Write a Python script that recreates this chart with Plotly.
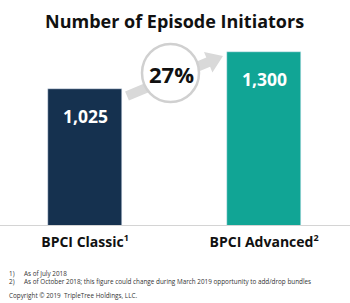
import plotly.graph_objects as go

categories = ["BPCI Classic", "BPCI Advanced"]
tick_labels = ["<b>BPCI Classic<sup><span style='font-size:9px'>1</span></sup></b>",
               "<b>BPCI Advanced<sup><span style='font-size:9px'>2</span></sup></b>"]
values = [1025, 1300]
value_labels = ["1,025", "1,300"]
bar_colors = ["#15314f", "#11a595"]
growth_label = "27%"
title_text = "Number of Episode Initiators"
footnotes = [("1)", "As of July 2018"),
             ("2)", "As of October 2018; this figure could change during March 2019 opportunity to add/drop bundles")]
copyright_text = "Copyright © 2019  TripleTree Holdings, LLC."

W, H = 350, 303
PLOT_H = 226
FONT = "Open Sans"


def px(x):
    return x / W


def py(y):
    return (PLOT_H - y) / PLOT_H


fig = go.Figure()
fig.add_trace(go.Bar(
    x=categories, y=values, marker_color=bar_colors, width=0.413,
    hoverinfo="skip", showlegend=False,
))

annotations = []
for c, v, t in zip(categories, values, value_labels):
    annotations.append(dict(x=c, y=v, xref="x", yref="y", text=f"<b>{t}</b>",
                            showarrow=False, yshift=-27, yanchor="middle",
                            font=dict(family=FONT, size=17.5, color="white")))

annotations.append(dict(x=px(174), y=py(21), xref="paper", yref="paper",
                        text=f"<b>{title_text}</b>", showarrow=False,
                        xanchor="center", yanchor="middle",
                        font=dict(family=FONT, size=18, color="#111111")))
annotations.append(dict(x=px(171), y=py(74), xref="paper", yref="paper",
                        text=f"<b>{growth_label}</b>", showarrow=False,
                        xanchor="center", yanchor="middle",
                        font=dict(family=FONT, size=22, color="#111111")))

foot_y = [273, 281.5]
for (num, txt), yy in zip(footnotes, foot_y):
    annotations.append(dict(x=px(7), y=py(yy), xref="paper", yref="paper", text=num,
                            showarrow=False, xanchor="left", yanchor="middle",
                            font=dict(family=FONT, size=6.35, color="#333333")))
    annotations.append(dict(x=px(22), y=py(yy), xref="paper", yref="paper", text=txt,
                            showarrow=False, xanchor="left", yanchor="middle",
                            font=dict(family=FONT, size=6.35, color="#333333")))
annotations.append(dict(x=px(7), y=py(295), xref="paper", yref="paper", text=copyright_text,
                        showarrow=False, xanchor="left", yanchor="middle",
                        font=dict(family=FONT, size=6.35, color="#333333")))

# arrow polygon (pixel coordinates -> paper)
arrow_pts = [(128.9, 100.6), (210.1, 66.8), (212.4, 72.4), (223, 56),
             (204, 52), (206.3, 57.6), (125.1, 91.4)]
path = "M " + " L ".join(f"{px(x):.5f},{py(y):.5f}" for x, y in arrow_pts) + " Z"

shapes = [
    dict(type="line", xref="paper", yref="y", x0=0, x1=1, y0=0, y1=0,
         line=dict(color="#d4d4d4", width=2), layer="above"),
    dict(type="path", xref="paper", yref="paper", path=path,
         fillcolor="#d9d9d9", line=dict(width=0)),
    dict(type="circle", xref="paper", yref="paper",
         x0=px(142), x1=px(199), y0=py(102), y1=py(44),
         fillcolor="white", line=dict(color="#d0d0d0", width=2.5)),
]

fig.update_layout(
    width=W, height=H,
    margin=dict(l=0, r=0, t=0, b=H - PLOT_H, pad=0),
    paper_bgcolor="white", plot_bgcolor="white",
    xaxis=dict(range=[-0.475, 1.480], tickvals=categories, ticktext=tick_labels,
               showgrid=False, zeroline=False, showline=False, ticks="",
               tickfont=dict(family=FONT, size=14, color="#111111"),
               ticklabelstandoff=6, fixedrange=True),
    yaxis=dict(range=[0, 1690], visible=False, fixedrange=True),
    annotations=annotations, shapes=shapes,
    bargap=0,
)

fig.write_html("out.html", config={"displayModeBar": False})
